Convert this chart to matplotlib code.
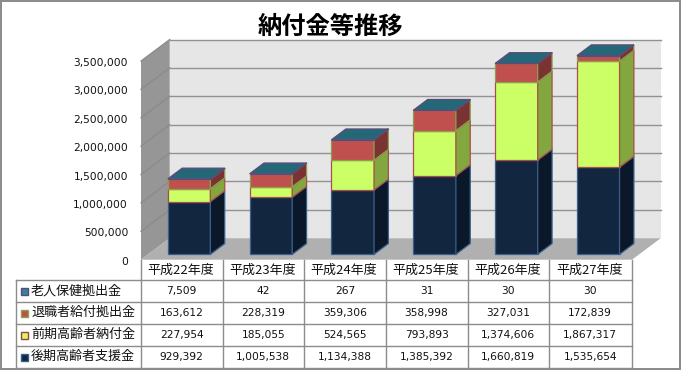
import matplotlib
matplotlib.use("Agg")
import matplotlib.pyplot as plt
from matplotlib.patches import Polygon, Rectangle
from matplotlib.transforms import ScaledTranslation

plt.rcParams['font.family'] = ['Noto Sans CJK JP', 'DejaVu Sans']

title = "納付金等推移"
years = ["平成22年度", "平成23年度", "平成24年度", "平成25年度", "平成26年度", "平成27年度"]
names = ["老人保健拠出金", "退職者給付拠出金", "前期高齢者納付金", "後期高齢者支援金"]
roken = [7509, 42, 267, 31, 30, 30]
taishoku = [163612, 228319, 359306, 358998, 327031, 172839]
zenki = [227954, 185055, 524565, 793893, 1374606, 1867317]
koki = [929392, 1005538, 1134388, 1385392, 1660819, 1535654]
yticks = [0, 500000, 1000000, 1500000, 2000000, 2500000, 3000000, 3500000]

# bottom-to-top stacking: values, front, side, edge
stack = [
    (koki, "#12263f", "#0b1829", "#3b5f8c"),
    (zenki, "#ccff66", "#84a63f", "#a5504a"),
    (taishoku, "#c0504d", "#7b3232", "#8aa050"),
    (roken, "#246878", "#246878", "#5f497a"),
]
key_colors = [("#31859c", "#5f497a"), ("#c0504d", "#8aa050"), ("#ccff66", "#a5403c"), ("#12263f", "#3b5f8c")]

W, H = 681, 371
YMAX = 3500000
fig = plt.figure(figsize=(W / 100, H / 100), dpi=100, facecolor="white")

# front plane of the 3-D box
L, R, T, B = 141.0, 632.0, 61.0, 259.7
ax = fig.add_axes([L / W, 1 - B / H, (R - L) / W, (B - T) / H])
ax.set_xlim(-0.5, 5.5)
ax.set_ylim(0, YMAX)
ax.patch.set_visible(False)
for s in ax.spines.values():
    s.set_visible(False)
ax.set_xticks([])
ax.set_yticks(yticks)
ax.set_yticklabels([f"{v:,}" for v in yticks], fontsize=7.7, family="DejaVu Sans", color="#111111")
ax.tick_params(axis="y", length=0, pad=9.3)
for lab in ax.get_yticklabels():
    lab.set_transform(lab.get_transform() + ScaledTranslation(0, -1 / 100, fig.dpi_scale_trans))

# oblique projection: depth (0..1) shifts points back and to the right
DX = 0.351
DY = 21.5 * YMAX / (B - T)


def P(x, y, d):
    return (x + d * DX, y + d * DY)


def poly(pts, fc, ec="none", lw=0.0, z=1):
    ax.add_patch(Polygon(pts, closed=True, facecolor=fc, edgecolor=ec, linewidth=lw,
                         zorder=z, clip_on=False, joinstyle="miter"))


x0, x1 = -0.5, 5.5
poly([P(x0, 0, 1), P(x1, 0, 1), P(x1, YMAX, 1), P(x0, YMAX, 1)], "#e6e6e6", z=1)
poly([P(x0, 0, 0), P(x0, 0, 1), P(x0, YMAX, 1), P(x0, YMAX, 0)], "#969696", z=1)
poly([P(x0, 0, 0), P(x1, 0, 0), P(x1, 0, 1), P(x0, 0, 1)], "#b0b0b0", z=1)
for v in yticks[1:]:
    a, b, c = P(x0, v, 0), P(x0, v, 1), P(x1, v, 1)
    ax.plot([a[0], b[0]], [a[1], b[1]], color="#8a8a8a", lw=0.9, zorder=2, clip_on=False)
    ax.plot([b[0], c[0]], [b[1], c[1]], color="#929292", lw=1.0, zorder=2, clip_on=False)

# stacked 3-D bars
HW = 0.26
D0, D1 = 0.25, 0.75
z = 3
for i in range(len(years)):
    base = 0
    xa, xb = i - HW, i + HW
    for vals, front, side, edge in stack:
        top = min(base + vals[i], YMAX)
        poly([P(xa, base, D0), P(xb, base, D0), P(xb, top, D0), P(xa, top, D0)], front, edge, 0.9, z)
        poly([P(xb, base, D0), P(xb, base, D1), P(xb, top, D1), P(xb, top, D0)], side, edge, 0.9, z)
        z += 1
        base = top
    poly([P(xa, base, D0), P(xb, base, D0), P(xb, base, D1), P(xa, base, D1)],
         stack[-1][1], stack[-1][3], 0.9, z)
    z += 1

# overlay in pixel units for frame, title and table
tb = fig.add_axes([0, 0, 1, 1], zorder=5)
tb.set_xlim(0, W)
tb.set_ylim(H, 0)
tb.axis("off")
tb.patch.set_visible(False)
tb.add_patch(Rectangle((0.7, 0.7), W - 1.4, 368.6, fill=False, edgecolor="#8a8a8a", lw=1.4))
tb.text(330, 26.5, title, fontsize=17.5, fontweight="bold", ha="center", va="center", color="black")

cols = [141, 222.5, 304, 385.7, 467.5, 549, 631.5]
rows = [280.3, 302.3, 324.3, 346.2, 368.2]
LC = "#8c8c8c"
for c in cols:
    tb.plot([c, c], [260, rows[-1]], color=LC, lw=1.0)
tb.plot([15.5, 15.5], [rows[0], rows[-1]], color=LC, lw=1.0)
for r in rows:
    tb.plot([15.5, cols[-1]], [r, r], color=LC, lw=1.0)

for i, y in enumerate(years):
    tb.text((cols[i] + cols[i + 1]) / 2 - 1, 270.5, y, fontsize=9.4, ha="center", va="center", color="#111111")

table_rows = [roken, taishoku, zenki, koki]
for r, (name, vals) in enumerate(zip(names, table_rows)):
    yc = (rows[r] + rows[r + 1]) / 2
    fc, ec = key_colors[r]
    tb.add_patch(Rectangle((20.5, yc - 3.7), 7.2, 7.2, facecolor=fc, edgecolor=ec, lw=1.0))
    tb.text(31, yc - 0.5, name, fontsize=9.4, ha="left", va="center", color="#111111")
    for i, v in enumerate(vals):
        tb.text((cols[i] + cols[i + 1]) / 2, yc, f"{v:,}", fontsize=7.7, family="DejaVu Sans",
                ha="center", va="center", color="#111111")

fig.savefig("out.png", dpi=100, facecolor="white")
